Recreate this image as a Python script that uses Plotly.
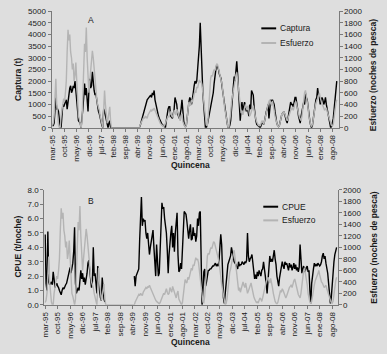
import plotly.graph_objects as go

# ---------------- data (fortnightly, mar-95 .. ~oct-08) ----------------
tick_labels = ["mar-95", "oct-95", "may-96", "dic-96", "jul-97", "feb-98", "sep-98", "abr-99",
               "nov-99", "jun-00", "ene-01", "ago-01", "mar-02", "oct-02", "may-03", "dic-03",
               "jul-04", "feb-05", "sep-05", "abr-06", "nov-06", "jun-07", "ene-08", "ago-08"]

captura = [
    100, 100, 200, 700, 1300, 800, 800, 700, 300, 0,
    0, 400, 1000, 900, 1000, 1100, 1200, 800, 1200, 1500,
    1700, 1800, 1500, 1600, 1800, 1700, 2000, 1600, 1200, 500,
    300, 250, 200, 0, 300, 800, 1300, 1900, 1400, 1700,
    1200, 700, 1600, 2100, 1700, 1800, 2400, 1900, 1600, 1400,
    1500, 1200, 900, 700, 600, 400, 300, 100, 0, 800,
    700, 500, 300, 100, 0, 200, 300, 0, 0, 0,
    0, 0, 0, 0, 0, 0, 0, 0, 0, 0,
    0, 0, 0, 0, 0, 0, 0, 0, 0, 0,
    0, 0, 0, 0, 0, 0, 0, 0, 0, 0,
    0, 100, 250, 400, 550, 700, 850, 1000, 1100, 1200,
    1250, 1300, 1350, 1400, 1300, 1500, 1400, 1600, 1200, 1000,
    850, 700, 500, 400, 300, 200, 150, 100, 100, 50,
    0, 300, 600, 800, 900, 900, 500, 450, 400, 600,
    800, 1300, 1100, 1000, 600, 500, 400, 600, 800, 1200,
    600, 300, 100, 50, 100, 500, 1000, 1100, 1300, 1200,
    1000, 1200, 1500, 1800, 2000, 1900, 2000, 2500, 3000, 3500,
    4500, 3500, 2000, 1500, 1000, 300, 0, 0, 100, 300,
    500, 700, 900, 1100, 1300, 1500, 1900, 2300, 2500, 2700,
    2600, 2500, 2300, 2200, 2100, 1800, 1500, 1200, 900, 600,
    400, 200, 0, 0, 100, 300, 800, 1400, 1800, 2200,
    2000, 2400, 2850, 2300, 1500, 800, 300, 800, 1100, 700,
    900, 1100, 900, 700, 900, 600, 500, 1000, 800, 1600,
    1500, 1400, 900, 500, 300, 150, 100, 80, 50, 0,
    100, 200, 200, 150, 300, 600, 700, 800, 1000, 400,
    1000, 1200, 1100, 1200, 1100, 1000, 700, 400, 200, 100,
    50, 100, 300, 400, 600, 600, 700, 600, 400, 300,
    200, 400, 600, 800, 1100, 1000, 1000, 900, 1200, 1300,
    1300, 1100, 800, 500, 300, 200, 500, 700, 900, 1100,
    1000, 1500, 1300, 1200, 900, 500, 300, 100, 0, 100,
    400, 700, 1000, 1200, 1300, 1700, 1400, 1300, 1000, 1200,
    1300, 1200, 1000, 1100, 1300, 1000, 800, 600, 300, 100,
    0, 50, 200, 400, 800, 1200, 1600, 2000,
]

esfuerzo = [
    40, 80, 200, 500, 840, 400, 200, 50, 0, 0,
    200, 350, 400, 500, 450, 600, 800, 1300, 1680, 1500,
    1600, 1300, 1200, 1000, 1100, 800, 900, 1120, 800, 400,
    200, 150, 50, 0, 100, 500, 1000, 1440, 1300, 1720,
    1200, 800, 600, 800, 1000, 1100, 1320, 1200, 1000, 800,
    600, 500, 400, 350, 300, 200, 120, 40, 0, 300,
    640, 400, 250, 80, 150, 300, 360, 100, 0, 0,
    0, 0, 0, 0, 0, 0, 0, 0, 0, 0,
    0, 0, 0, 0, 0, 0, 0, 0, 0, 0,
    0, 0, 0, 0, 0, 0, 0, 0, 0, 0,
    0, 50, 80, 120, 150, 180, 160, 200, 180, 160,
    220, 250, 270, 300, 280, 320, 300, 340, 300, 260,
    240, 200, 150, 120, 80, 60, 40, 30, 20, 40,
    80, 120, 160, 200, 180, 240, 280, 220, 180, 200,
    300, 260, 220, 320, 260, 200, 160, 120, 200, 240,
    100, 60, 20, 0, 40, 200, 350, 440, 400, 380,
    480, 440, 500, 560, 640, 600, 700, 680, 760, 820,
    780, 800, 740, 600, 450, 250, 100, 50, 40, 150,
    400, 650, 850, 900, 880, 950, 1000, 980, 1050, 1100,
    1080, 1000, 950, 900, 820, 750, 650, 500, 350, 250,
    120, 40, 0, 20, 100, 250, 450, 560, 620, 700,
    800, 900, 950, 820, 650, 480, 350, 250, 300, 220,
    280, 350, 400, 340, 300, 380, 260, 200, 240, 300,
    350, 380, 300, 200, 150, 100, 60, 40, 50, 30,
    80, 120, 100, 60, 120, 200, 250, 320, 400, 450,
    480, 420, 380, 460, 400, 300, 200, 120, 60, 30,
    20, 40, 100, 180, 250, 220, 280, 250, 200, 150,
    120, 160, 220, 280, 300, 320, 350, 300, 380, 420,
    450, 380, 300, 220, 180, 150, 120, 200, 350, 500,
    600, 640, 560, 480, 350, 200, 100, 50, 20, 60,
    150, 280, 350, 420, 450, 500, 540, 600, 520, 450,
    400, 380, 340, 300, 320, 340, 280, 220, 150, 100,
    80, 40, 30, 60, 150, 300, 420, 480,
]

cpue = [
    4.9, 1.5, 1.0, 5.1, 1.6, 1.4, 1.5, 1.6, 1.4, 2.3,
    1.8, 1.2, 1.4, 1.5, 1.3, 1.2, 1.0, 0.8, 0.7, 1.0,
    1.2, 1.1, 1.3, 1.4, 1.5, 1.8, 2.0, 2.3, 2.6, 2.2,
    2.5, 2.9, 3.7, 5.4, 1.5, 0.8, 1.0, 1.2, 1.0, 1.5,
    2.4, 1.8, 2.2, 1.6, 1.9, 1.4, 1.7, 2.2, 2.9, 3.1,
    2.4, 1.8, 1.2, 1.6, 4.0, 2.0, 2.2, 1.5, 0.8, 2.7,
    1.6, 1.0, 0.5, 0.3, 1.9, 0.8, 0.4, 0.2, None, None,
    None, None, None, None, None, None, None, None, None, None,
    None, None, None, None, None, None, None, None, None, None,
    None, None, None, None, None, None, None, None, None, None,
    2.0, 1.3, 2.0, 2.2, 2.3, 2.5, 4.5, 6.0, 7.5, 5.5,
    6.0, 5.8, 5.9, 5.0, 4.6, 5.0, 4.2, 3.5, 4.0, 4.5,
    4.8, 5.2, 4.0, 3.0, 2.0, 4.2, 3.0, 2.0, 2.2, 3.5,
    5.8, 7.1, 6.7, 6.8, 6.0, 5.5, 5.0, 3.8, 2.2, 3.5,
    4.5, 5.0, 5.5, 4.0, 5.0, 3.7, 5.0, 6.0, 6.4, 3.5,
    2.3, 2.4, 2.9, 2.5, 4.0, 5.5, 6.5, 6.4, 6.3, 5.8,
    5.0, 4.6, 5.2, 5.6, 4.5, 4.6, 5.4, 4.8, 5.0, 4.4,
    4.8, 6.0, 5.5, 6.4, 6.5, 3.0, 0.0, 1.0, 2.3, 2.5,
    1.3, 1.6, 2.0, 2.4, 2.4, 2.5, 2.5, 2.6, 2.7, 2.7,
    2.8, 2.9, 2.7, 2.8, 2.7, 3.0, 4.0, 4.9, 4.2, 1.5,
    0.5, 0.1, 0.8, 1.5, 2.2, 2.8, 3.0, 3.2, 3.4, 4.0,
    3.6, 3.2, 3.0, 2.9, 2.8, 2.6, 2.5, 3.0, 2.7, 2.8,
    2.8, 3.0, 2.9, 2.8, 3.0, 2.9, 3.1, 5.0, 3.4, 3.0,
    3.2, 3.3, 3.5, 3.0, 2.5, 1.8, 2.1, 1.8, 2.3, 2.0,
    2.4, 2.2, 2.0, 2.4, 2.5, 3.0, 2.6, 2.2, 1.5, 0.8,
    2.0, 2.5, 3.4, 3.0, 3.2, 3.0, 3.6, 3.8, 3.2, 2.8,
    2.0, 1.5, 1.3, 1.9, 2.2, 2.7, 3.0, 2.7, 2.5, 3.0,
    2.8, 2.9, 2.6, 2.4, 2.9, 2.6, 2.8, 2.4, 2.6, 2.9,
    2.5, 2.8, 2.4, 2.6, 2.3, 2.6, 4.2, 2.8, 2.2, 2.5,
    2.7, 2.3, 2.4, 2.6, 2.7, 2.3, 2.4, 1.0, 0.1, 1.5,
    2.3, 2.5, 2.9, 2.7, 2.8, 2.7, 2.9, 2.8, 2.7, 2.8,
    3.0, 3.4, 3.6, 3.2, 3.4, 2.9, 2.6, 2.2, 1.5, 0.6,
    0.1, 0.5, 1.5, 2.5, 3.0, 3.5, 3.8, 4.0,
]

n = len(captura)
idx = list(range(n))
tick_vals = [i * 14 for i in range(len(tick_labels))]

# ---------------- styling ----------------
W, H = 387, 354
BG = "#dedede"
FONT = "Arial, Liberation Sans, sans-serif"
TXT = "#1a1a1a"
AXC = "#7a7a7a"
BLACK = "#000000"
GRAY = "#b4b4b4"


def px(x):
    return x / W


def py(y):
    return 1 - y / H


fig = go.Figure()

# top panel
fig.add_trace(go.Scatter(x=idx, y=esfuerzo, mode="lines", line=dict(color=GRAY, width=1.4),
                         xaxis="x", yaxis="y2", name="Esfuerzo", showlegend=False))
fig.add_trace(go.Scatter(x=idx, y=captura, mode="lines", line=dict(color=BLACK, width=1.4),
                         xaxis="x", yaxis="y", name="Captura", showlegend=False))
# bottom panel
fig.add_trace(go.Scatter(x=idx, y=esfuerzo, mode="lines", line=dict(color=GRAY, width=1.4),
                         xaxis="x2", yaxis="y4", name="Esfuerzo", showlegend=False))
fig.add_trace(go.Scatter(x=idx, y=cpue, mode="lines", line=dict(color=BLACK, width=1.4),
                         xaxis="x2", yaxis="y3", name="CPUE", showlegend=False, connectgaps=False))

tickfont = dict(family=FONT, size=8, color=TXT)
xcommon = dict(tickmode="array", tickvals=tick_vals, ticktext=tick_labels, tickangle=-90,
               tickfont=tickfont, showline=True, linecolor=AXC, linewidth=1, ticks="outside",
               ticklen=3, tickcolor=AXC, showgrid=False, zeroline=False)
ycommon = dict(tickfont=tickfont, showline=True, linecolor=AXC, linewidth=1, ticks="outside",
               ticklen=3, tickcolor=AXC, showgrid=False, zeroline=False)

fig.update_layout(
    width=W, height=H, margin=dict(l=0, r=0, t=0, b=0),
    paper_bgcolor=BG, plot_bgcolor=BG,
    font=dict(family=FONT, color=TXT, size=8),
    showlegend=False,
    xaxis=dict(domain=[px(48), px(338)], anchor="y", range=[-1, 329], **xcommon),
    yaxis=dict(domain=[py(127), py(7.3)], anchor="x", range=[0, 5000], dtick=500, **ycommon),
    yaxis2=dict(overlaying="y", side="right", anchor="x", range=[0, 2000], dtick=200, **ycommon),
    xaxis2=dict(domain=[px(40.7), px(337)], anchor="y3", range=[-1, 328], **xcommon),
    yaxis3=dict(domain=[py(308.7), py(190.7)], anchor="x2", range=[0, 8], dtick=1,
                tickformat=".1f", **ycommon),
    yaxis4=dict(overlaying="y3", side="right", anchor="x2", range=[0, 2000], dtick=200, **ycommon),
)

annots = [
    dict(text="<b>Captura (t)</b>", x=px(14), y=py(77), textangle=-90),
    dict(text="<b>CPUE (t/noche)</b>", x=px(14), y=py(249), textangle=-90),
    dict(text="<b>Esfuerzo (noches de pesca)</b>", x=px(373), y=py(73), textangle=-90),
    dict(text="<b>Esfuerzo (noches de pesca)</b>", x=px(373), y=py(250), textangle=-90),
    dict(text="<b>Quincena</b>", x=px(188), y=py(165)),
    dict(text="<b>Quincena</b>", x=px(188), y=py(347)),
    dict(text="A", x=px(88), y=py(16)),
    dict(text="B", x=px(88), y=py(202)),
]
for a in annots:
    fig.add_annotation(xref="paper", yref="paper", showarrow=False, xanchor="center",
                       yanchor="middle", font=dict(family=FONT, size=8.5, color=TXT), **a)

# legends (drawn as small line samples + labels)
legend_items = [
    (260, 275, 25, BLACK, "Captura"),
    (260, 275, 40, GRAY, "Esfuerzo"),
    (262, 277, 208, BLACK, "CPUE"),
    (262, 277, 222, GRAY, "Esfuerzo"),
]
for x0, x1, y, col, label in legend_items:
    fig.add_shape(type="line", xref="paper", yref="paper", x0=px(x0), x1=px(x1), y0=py(y), y1=py(y),
                  line=dict(color=col, width=2))
    fig.add_annotation(xref="paper", yref="paper", x=px(x1 + 2), y=py(y), text=label, showarrow=False,
                       xanchor="left", yanchor="middle", font=dict(family=FONT, size=8.5, color=TXT))

fig.write_html("out.html")
